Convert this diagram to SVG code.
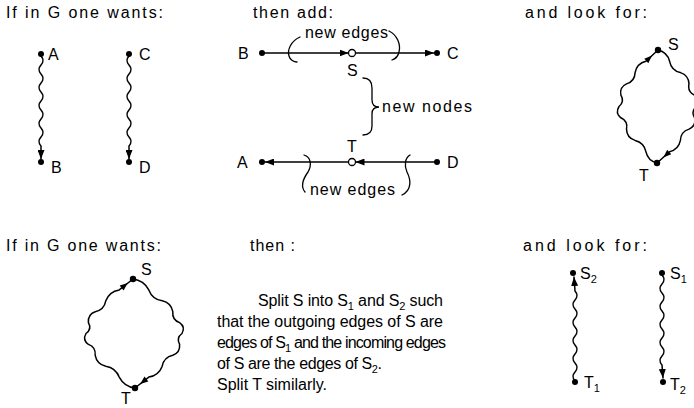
<svg xmlns="http://www.w3.org/2000/svg" width="694" height="408" viewBox="0 0 694 408">
<style>
.t{font-family:"Liberation Sans","DejaVu Sans",sans-serif;font-size:16px;fill:#000}
.sub{font-size:11px}
.e{fill:none;stroke:#000;stroke-width:1.5;stroke-linecap:round;stroke-linejoin:round}
.a{fill:none;stroke:#000;stroke-width:1.3;stroke-linecap:round}
.dot{fill:#000}
.open{fill:#fff;stroke:#000;stroke-width:1.3}
.ah{fill:#000}
</style>
<defs>
<marker id="arr" viewBox="0 0 9 7" refX="9" refY="3.5" markerWidth="9" markerHeight="7" markerUnits="userSpaceOnUse" orient="auto">
<path d="M0,0 L9,3.5 L0,7 z" fill="#000"/>
</marker>
</defs>

<!-- headings and texts -->
<g id="headings">
<text class="t" x="6" y="18" textLength="157" lengthAdjust="spacing">If in G one wants:</text>
<text class="t" x="253" y="18" textLength="80" lengthAdjust="spacing">then add:</text>
<text class="t" x="525" y="18" textLength="122" lengthAdjust="spacing">and look for:</text>
<text class="t" x="6" y="251" textLength="155" lengthAdjust="spacing">If in G one wants:</text>
<text class="t" x="250" y="251" textLength="45" lengthAdjust="spacing">then :</text>
<text class="t" x="523" y="251" textLength="124" lengthAdjust="spacing">and look for:</text>
</g>

<g id="paragraph">
<text class="t" x="258" y="306" textLength="185" lengthAdjust="spacing">Split S into S<tspan class="sub" dy="4">1</tspan><tspan dy="-4"> and S</tspan><tspan class="sub" dy="4">2</tspan><tspan dy="-4"> such</tspan></text>
<text class="t" x="217" y="327" textLength="226" lengthAdjust="spacing">that the outgoing edges of S are</text>
<text class="t" x="217" y="348" textLength="229" lengthAdjust="spacing">edges of S<tspan class="sub" dy="4">1</tspan><tspan dy="-4"> and the incoming edges</tspan></text>
<text class="t" x="217" y="369" textLength="165" lengthAdjust="spacing">of S are the edges of S<tspan class="sub" dy="4">2</tspan><tspan dy="-4">.</tspan></text>
<text class="t" x="217" y="390" textLength="110" lengthAdjust="spacing">Split T similarly.</text>
</g>

<!-- connectors -->
<g id="connectors">
<!-- left: A to B, C to D -->
<path class="e" d="M41,56 q4,4.5 0,9 t0,9 t0,9 t0,9 t0,9 t0,9 t0,9 t0,9 t0,9 t0,9 L41,159" marker-end="url(#arr)"/>
<path class="e" d="M129,56 q-4,4.5 0,9 t0,9 t0,9 t0,9 t0,9 t0,9 t0,9 t0,9 t0,9 t0,9 L129,159" marker-end="url(#arr)"/>
<!-- middle: new edges -->
<line class="e" x1="262" y1="53" x2="348.5" y2="53" marker-end="url(#arr)"/>
<line class="e" x1="355.5" y1="53" x2="434" y2="53" marker-end="url(#arr)"/>
<line class="e" x1="437" y1="162" x2="355.5" y2="162" marker-end="url(#arr)"/>
<line class="e" x1="348.5" y1="162" x2="265" y2="162" marker-end="url(#arr)"/>
<!-- top-right cycle -->
<path class="e" d="M657,163 Q647.9,160.9 645.9,151.7 Q644.1,142.6 635.1,140.4 Q626.8,137.8 626.5,129.1 Q628.2,121.2 620.9,117.8 Q615,113 619,106.5 Q624.9,101.7 620.9,95.2 Q619.2,87.3 626.5,83.9 Q634.8,81.3 635.1,72.6 Q636.9,63.5 645.9,61.3 L658,50"/>
<polygon class="ah" points="652.1,55.5 648.3,63.2 644.3,58.8"/>
<path class="e" d="M658,50 Q667.3,52.1 669.6,61.3 Q671.4,70.4 680.4,72.6 Q688.7,75.2 689,83.9 Q687.3,91.8 694.6,95.2 Q700.5,100 696.5,106.5 Q690.6,111.3 694.6,117.8 Q696.3,125.7 689,129.1 Q680.7,131.7 680.4,140.4 Q678.6,149.5 669.6,151.7 L657,163"/>
<polygon class="ah" points="663.3,157.4 671.2,154.2 667.2,149.8"/>
<!-- bottom-left cycle -->
<path class="e" d="M135,388 Q124.3,386.7 119.2,377.1 Q115.7,367.8 105.8,366.2 Q96.9,364.2 95.2,355.3 Q96,347.2 88.4,344.4 Q82.3,340 86,333.5 Q92.1,329.1 88.4,322.6 Q87.6,314.5 95.2,311.7 Q104.1,309.7 105.8,300.8 Q109.3,291.5 119.2,289.9 L133,279"/>
<polygon class="ah" points="127.8,283.1 123.5,290.4 119.7,285.6"/>
<path class="e" d="M133,279 Q143.7,280.3 148.8,289.9 Q152.3,299.2 162.2,300.8 Q171.1,302.8 172.8,311.7 Q172,319.8 179.6,322.6 Q185.7,327 182,333.5 Q175.9,337.9 179.6,344.4 Q180.4,352.5 172.8,355.3 Q163.9,357.3 162.2,366.2 Q158.7,375.5 148.8,377.1 L135,388"/>
<polygon class="ah" points="140.2,383.9 148.3,381.4 144.5,376.6"/>
<!-- bottom-right: T1 to S2, S1 to T2 -->
<path class="e" d="M575,381 q-4,-4.5 0,-9 t0,-9 t0,-9 t0,-9 t0,-9 t0,-9 t0,-9 t0,-9 t0,-9 t0,-9 L574,277" marker-end="url(#arr)"/>
<path class="e" d="M662,275 q4,4.5 0,9 t0,9 t0,9 t0,9 t0,9 t0,9 t0,9 t0,9 t0,9 t0,9 L663,378" marker-end="url(#arr)"/>
</g>

<!-- annotations: brackets, brace -->
<g id="annotations">
<path class="a" d="M300,37 C291,41 287,50 289,56 C290,60 294,62 297,62"/>
<path class="a" d="M389,31 C397,35 401,44 399,52 C398,57 395,59 392,60"/>
<path class="a" d="M363,78 Q372,78 372,88 L372,100 Q372,107 379,107 Q372,107 372,114 L372,126 Q372,135 363,135"/>
<path class="a" d="M304,155 C311,157 312,165 308,172 C303,179 300,186 305,192"/>
<path class="a" d="M410,155 C405,158 404,165 407,172 C411,180 412,190 402,195"/>
<text class="t" x="305" y="38" textLength="83" lengthAdjust="spacing">new edges</text>
<text class="t" x="382" y="112" textLength="90" lengthAdjust="spacing">new nodes</text>
<text class="t" x="310" y="195" textLength="85" lengthAdjust="spacing">new edges</text>
</g>

<!-- nodes: left -->
<g id="node-A"><circle class="dot" cx="41" cy="54" r="3"/><text class="t" x="48" y="60">A</text></g>
<g id="node-B"><circle class="dot" cx="41" cy="162" r="3"/><text class="t" x="51" y="173">B</text></g>
<g id="node-C"><circle class="dot" cx="129" cy="54" r="3"/><text class="t" x="139" y="60">C</text></g>
<g id="node-D"><circle class="dot" cx="129" cy="162" r="3"/><text class="t" x="139" y="173">D</text></g>

<!-- nodes: middle -->
<g id="node-B-mid"><circle class="dot" cx="262" cy="53" r="3"/><text class="t" x="238" y="59">B</text></g>
<g id="node-S-mid"><circle class="open" cx="352" cy="53" r="3.5"/><text class="t" x="347" y="76">S</text></g>
<g id="node-C-mid"><circle class="dot" cx="437" cy="53" r="3"/><text class="t" x="447" y="59">C</text></g>
<g id="node-A-mid"><circle class="dot" cx="262" cy="162" r="3"/><text class="t" x="237" y="168">A</text></g>
<g id="node-T-mid"><circle class="open" cx="352" cy="162" r="3.5"/><text class="t" x="347" y="152">T</text></g>
<g id="node-D-mid"><circle class="dot" cx="437" cy="162" r="3"/><text class="t" x="447" y="168">D</text></g>

<!-- nodes: top-right cycle -->
<g id="node-S-tr"><circle class="dot" cx="658" cy="50" r="3.2"/><text class="t" x="668" y="50">S</text></g>
<g id="node-T-tr"><circle class="dot" cx="657" cy="163" r="3.2"/><text class="t" x="639" y="181">T</text></g>

<!-- nodes: bottom-left cycle -->
<g id="node-S-bl"><circle class="dot" cx="133" cy="279" r="3.2"/><text class="t" x="141" y="275">S</text></g>
<g id="node-T-bl"><circle class="dot" cx="135" cy="388" r="3.2"/><text class="t" x="121" y="404">T</text></g>

<!-- nodes: bottom-right -->
<g id="node-S2"><circle class="dot" cx="573" cy="273" r="3"/><text class="t" x="580" y="279">S<tspan class="sub" dy="4">2</tspan></text></g>
<g id="node-T1"><circle class="dot" cx="575" cy="382" r="3"/><text class="t" x="584" y="388">T<tspan class="sub" dy="4">1</tspan></text></g>
<g id="node-S1"><circle class="dot" cx="662" cy="273" r="3"/><text class="t" x="670" y="279">S<tspan class="sub" dy="4">1</tspan></text></g>
<g id="node-T2"><circle class="dot" cx="663" cy="382" r="3"/><text class="t" x="670" y="390">T<tspan class="sub" dy="4">2</tspan></text></g>
</svg>
